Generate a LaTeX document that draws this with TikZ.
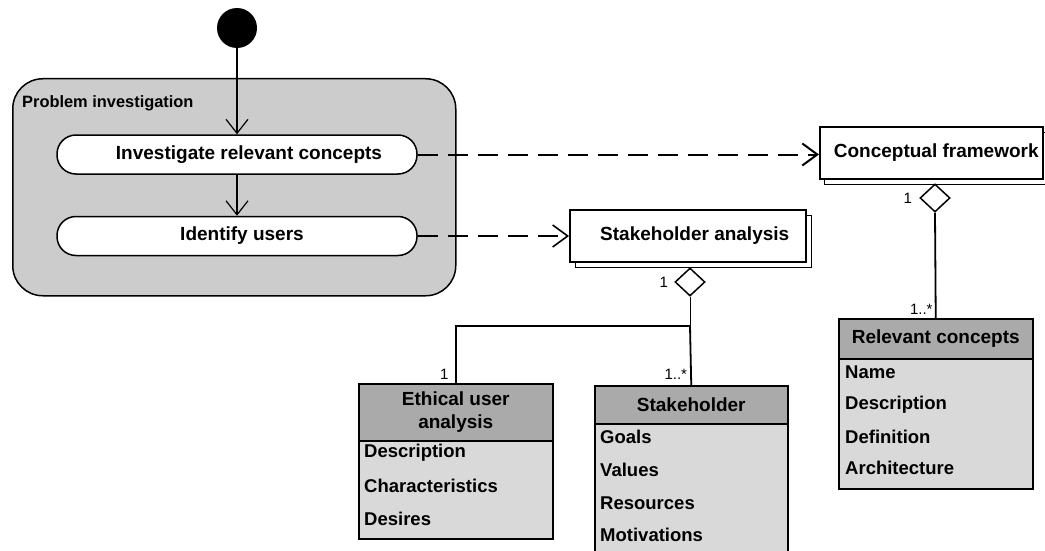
\documentclass[tikz,border=0pt]{standalone}
\usepackage{fontspec}
\setmainfont{Liberation Sans}
\usetikzlibrary{arrows.meta,shapes.geometric}
\definecolor{groupgray}{HTML}{CCCCCC}
\definecolor{headgray}{HTML}{AAAAAA}
\definecolor{bodygray}{HTML}{D9D9D9}
\begin{document}
\begin{tikzpicture}[x=1pt,y=-1pt,
  start/.style={circle, fill=black, minimum size=40pt, inner sep=0},
  group/.style={draw, line width=1.5pt, fill=groupgray, rounded corners=30pt, anchor=north west, inner sep=0},
  activity/.style={draw, line width=1.5pt, fill=white, rounded corners=19pt, minimum width=360pt, minimum height=39pt, inner sep=0},
  bigtext/.style={font=\fontsize{19}{23}\selectfont\bfseries},
  flow/.style={line width=1.2pt, -{Straight Barb[length=14pt,width=22pt]}},
  dep/.style={line width=2pt, dash pattern=on 20pt off 10pt, -{Straight Barb[length=15pt,width=22pt]}},
  frontbox/.style={draw, line width=1.5pt, fill=white, inner sep=0, anchor=north west, bigtext},
  backbox/.style={draw, line width=1pt, fill=white, inner sep=0, anchor=north west},
  agg/.style={diamond, draw, fill=white, line width=1.5pt, minimum width=30pt, minimum height=28pt, inner sep=0},
  head/.style={draw, line width=1.5pt, fill=headgray, anchor=north west, inner sep=0, align=center, bigtext},
  body/.style={draw, line width=1.5pt, fill=bodygray, anchor=north west, inner sep=0},
  attr/.style={anchor=west, inner sep=0, font=\fontsize{18.5}{22}\selectfont\bfseries},
  mult/.style={inner sep=0, font=\fontsize{15}{18}\selectfont},
  link/.style={line width=1.8pt}
]
\clip (0,0) rectangle (1045,551);
\fill[white] (0,0) rectangle (1045,551);

% activity group
\node[group, minimum width=443pt, minimum height=217pt] (grp) at (12,78) {};
\node[anchor=west, inner sep=0, font=\fontsize{16.4}{19}\selectfont\bfseries] (grplbl) at (22,103) {Problem investigation};

% initial state and activities
\node[start] (init) at (237,28) {};
\node[activity, label={[bigtext, xshift=12pt]center:Investigate relevant concepts}] (inv) at (237,154.5) {};
\node[activity, label={[bigtext, xshift=5pt]center:Identify users}] (ident) at (237,236) {};

\draw[flow] (init) -- (inv.north);
\draw[flow] (inv) -- (ident.north);

% stacked artefact boxes
\node[backbox, minimum width=236pt, minimum height=52pt] (saback) at (575,215) {};
\node[frontbox, minimum width=236pt, minimum height=52pt] (sa) at (569,209) {\hspace*{14pt}Stakeholder analysis};
\node[backbox, minimum width=223pt, minimum height=52pt] (cfback) at (824,132) {};
\node[frontbox, minimum width=223pt, minimum height=52pt] (cf) at (819,126) {\hspace*{10pt}Conceptual framework};

\draw[dep] (inv.east) -- (inv.east -| cf.west);
\draw[dep, line width=1.6pt] (ident.east) -- (ident.east -| sa.west);

% aggregation diamonds
\node[agg] (cfdia) at (935,198) {};
\node[agg] (sadia) at (690,282) {};

% class: relevant concepts
\node[head, minimum width=194pt, minimum height=40pt] (rch) at (838,318) {Relevant concepts};
\node[body, minimum width=194pt, minimum height=130pt] (rcb) at (838,358) {};
\node[attr] (rc1) at (845,372) {Name};
\node[attr] (rc2) at (845,405) {Description};
\node[attr] (rc3) at (845,437) {Definition};
\node[attr] (rc4) at (845,468) {Architecture};

% class: ethical user analysis
\node[head, minimum width=194pt, minimum height=57pt] (euh) at (358,383) {Ethical user\\analysis};
\node[body, minimum width=194pt, minimum height=98pt] (eub) at (358,440) {};
\node[attr] (eu1) at (364,453) {Description};
\node[attr] (eu2) at (364,486) {Characteristics};
\node[attr] (eu3) at (364,519) {Desires};

% class: stakeholder
\node[head, minimum width=193pt, minimum height=38pt] (shh) at (594,385) {Stakeholder};
\node[body, minimum width=193pt, minimum height=140pt] (shb) at (594,423) {};
\node[attr] (sh1) at (600,437) {Goals};
\node[attr] (sh2) at (600,470) {Values};
\node[attr] (sh3) at (600,503) {Resources};
\node[attr] (sh4) at (600,535) {Motivations};

% associations
\draw[link] (cfdia.south) -- (rch.north);
\coordinate (jn) at (690,326);
\draw[line width=1pt] (sadia.south) -- (jn);
\draw[link] (jn) -- (shh.north);
\draw[link] (jn) -| (euh.north);

% multiplicities
\node[mult, anchor=east] (m1) at ([xshift=-7pt]cfdia.west) {1};
\node[mult, anchor=south east] (m2) at ([xshift=-3pt,yshift=3pt]rch.north) {1..*};
\node[mult, anchor=east] (m3) at ([xshift=-6pt]sadia.west) {1};
\node[mult, anchor=south east] (m4) at ([xshift=-4pt,yshift=5pt]shh.north) {1..*};
\node[mult, anchor=south east] (m5) at ([xshift=-7pt,yshift=3pt]euh.north) {1};
\end{tikzpicture}
\end{document}
